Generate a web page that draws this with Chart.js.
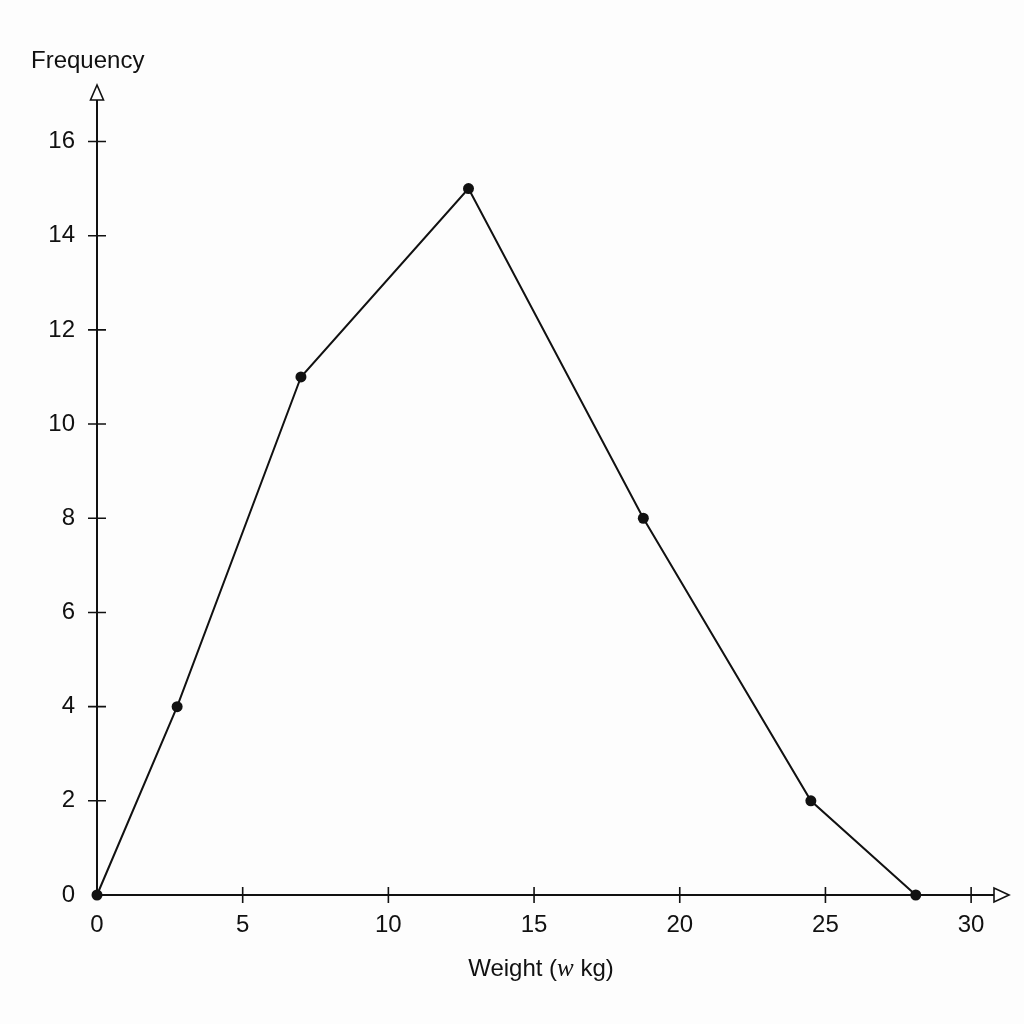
<!DOCTYPE html>
<html>
<head>
<meta charset="utf-8">
<script src="https://cdn.jsdelivr.net/npm/chart.js@4/dist/chart.umd.min.js"></script>
<style>
  html, body { margin: 0; padding: 0; background: #fdfdfd; }
  #wrap { position: relative; width: 1024px; height: 1024px; }
  #chart { position: absolute; left: 0; top: 0; }
  .title { position: absolute; font-family: "Liberation Sans", Arial, sans-serif; font-size: 24px; color: #111; white-space: nowrap; }
  #ytitle { left: 31px; top: 46px; }
  #xtitle { left: 0; width: 1082px; text-align: center; top: 954px; }
  #xtitle i { font-family: "Liberation Serif", "Times New Roman", serif; font-size: 25px; }
</style>
</head>
<body>
<div id="wrap">
  <canvas id="chart" width="1024" height="1024"></canvas>
  <div class="title" id="ytitle">Frequency</div>
  <div class="title" id="xtitle">Weight (<i>w</i> kg)</div>
</div>
<script>
// frequency polygon data (class mid-points / frequency)
const weights = [0, 2.75, 7, 12.75, 18.75, 24.5, 28.1];
const frequencies = [0, 4, 11, 15, 8, 2, 0];
const xTicks = [0, 5, 10, 15, 20, 25, 30];
const yTicks = [0, 2, 4, 6, 8, 10, 12, 14, 16];

const ink = "#111111";

// axes with arrow heads and ticks crossing the axis lines
const axesPlugin = {
  id: "axesArrows",
  beforeDatasetsDraw(chart) {
    const ctx = chart.ctx;
    const xs = chart.scales.x;
    const ys = chart.scales.y;
    const ox = xs.getPixelForValue(0);
    const oy = ys.getPixelForValue(0);
    const top = chart.chartArea.top;
    const right = chart.chartArea.right;
    ctx.save();
    ctx.strokeStyle = ink;
    ctx.lineWidth = 2;
    ctx.beginPath();
    ctx.moveTo(ox, oy);
    ctx.lineTo(ox, top + 15);
    ctx.moveTo(ox, oy);
    ctx.lineTo(right - 15, oy);
    ctx.stroke();

    // tick marks
    ctx.lineWidth = 1.6;
    ctx.beginPath();
    xTicks.forEach(v => {
      if (v === 0) return;
      const px = xs.getPixelForValue(v);
      ctx.moveTo(px, oy - 8);
      ctx.lineTo(px, oy + 8);
    });
    yTicks.forEach(v => {
      if (v === 0) return;
      const py = ys.getPixelForValue(v);
      ctx.moveTo(ox - 9, py);
      ctx.lineTo(ox + 9, py);
    });
    ctx.stroke();

    // open triangle arrow heads
    ctx.fillStyle = "#ffffff";
    ctx.lineWidth = 1.6;
    ctx.beginPath();
    ctx.moveTo(ox, top);
    ctx.lineTo(ox - 6.5, top + 15);
    ctx.lineTo(ox + 6.5, top + 15);
    ctx.closePath();
    ctx.fill();
    ctx.stroke();
    ctx.beginPath();
    ctx.moveTo(right, oy);
    ctx.lineTo(right - 15, oy - 7);
    ctx.lineTo(right - 15, oy + 7);
    ctx.closePath();
    ctx.fill();
    ctx.stroke();
    ctx.restore();
  }
};

const tickFont = { family: "'Liberation Sans', Arial, sans-serif", size: 24 };

new Chart(document.getElementById("chart").getContext("2d"), {
  type: "scatter",
  data: {
    datasets: [{
      data: weights.map((w, i) => ({ x: w, y: frequencies[i] })),
      showLine: true,
      borderColor: ink,
      borderWidth: 2,
      pointRadius: 5.5,
      pointBackgroundColor: ink,
      pointBorderColor: ink,
      pointBorderWidth: 0,
      clip: false
    }]
  },
  options: {
    responsive: false,
    animation: false,
    events: [],
    layout: { padding: { top: 85, right: 15, left: 0, bottom: 0 } },
    plugins: { legend: { display: false }, tooltip: { enabled: false } },
    scales: {
      x: {
        type: "linear",
        min: 0,
        max: 31.3,
        border: { display: false },
        grid: { display: false, drawTicks: false },
        afterBuildTicks: s => { s.ticks = xTicks.map(v => ({ value: v })); },
        afterFit: s => { s.height = 129; },
        ticks: { color: ink, font: tickFont, padding: 16, maxRotation: 0 }
      },
      y: {
        type: "linear",
        min: 0,
        max: 17.2,
        border: { display: false },
        grid: { display: false, drawTicks: false },
        afterBuildTicks: s => { s.ticks = yTicks.map(v => ({ value: v })); },
        afterFit: s => { s.width = 97; },
        ticks: { color: ink, font: tickFont, padding: 22 }
      }
    }
  },
  plugins: [axesPlugin]
});
</script>
</body>
</html>
